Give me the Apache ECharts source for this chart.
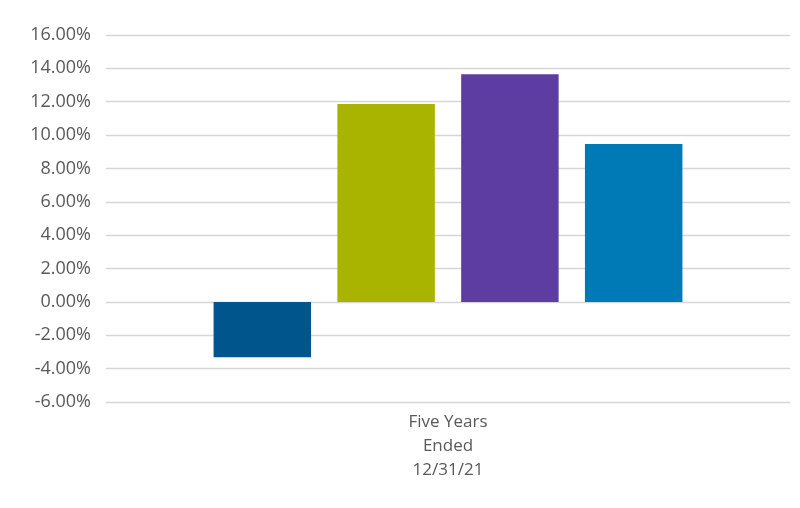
<!DOCTYPE html>
<html>
<head>
<meta charset="utf-8">
<script src="https://cdn.jsdelivr.net/npm/echarts@6/dist/echarts.min.js"></script>
<style>
  html, body { margin: 0; padding: 0; background: #fff; }
  #chart { width: 800px; height: 508px; }
</style>
</head>
<body>
<div id="chart"></div>
<script>
// values (percent)
var categories = ['Five Years\nEnded\n12/31/21'];
var seriesNames = ['Series A', 'Series B', 'Series C', 'Series D'];
var seriesValues = [[-3.31], [11.86], [13.65], [9.47]];
var seriesColors = ['#00568C', '#A8B400', '#5E3DA3', '#0079B7'];
var yTicks = { min: -6, max: 16, interval: 2 };

var chart = echarts.init(document.getElementById('chart'));

var series = seriesNames.map(function (name, i) {
    return {
        name: name,
        type: 'bar',
        data: seriesValues[i],
        barWidth: '14.25%',
        barGap: '27%',
        itemStyle: { color: seriesColors[i] }
    };
});

chart.setOption({
    animation: false,
    grid: { left: 106, right: 10, top: 35, bottom: 106 },
    xAxis: {
        type: 'category',
        data: categories,
        axisLine: { show: false },
        axisTick: { show: false },
        axisLabel: {
            color: '#595959',
            fontSize: 17,
            fontFamily: 'Open Sans, Noto Sans, sans-serif',
            lineHeight: 24,
            margin: 8
        }
    },
    yAxis: {
        type: 'value',
        min: yTicks.min,
        max: yTicks.max,
        interval: yTicks.interval,
        axisLine: { show: false },
        axisTick: { show: false },
        splitLine: { lineStyle: { color: '#d6d6d6', width: 1.4 } },
        axisLabel: {
            color: '#595959',
            fontSize: 18,
            fontFamily: 'Open Sans, Noto Sans, sans-serif',
            margin: 15,
            formatter: function (v) { return v.toFixed(2) + '%'; }
        }
    },
    series: series
});
</script>
</body>
</html>
